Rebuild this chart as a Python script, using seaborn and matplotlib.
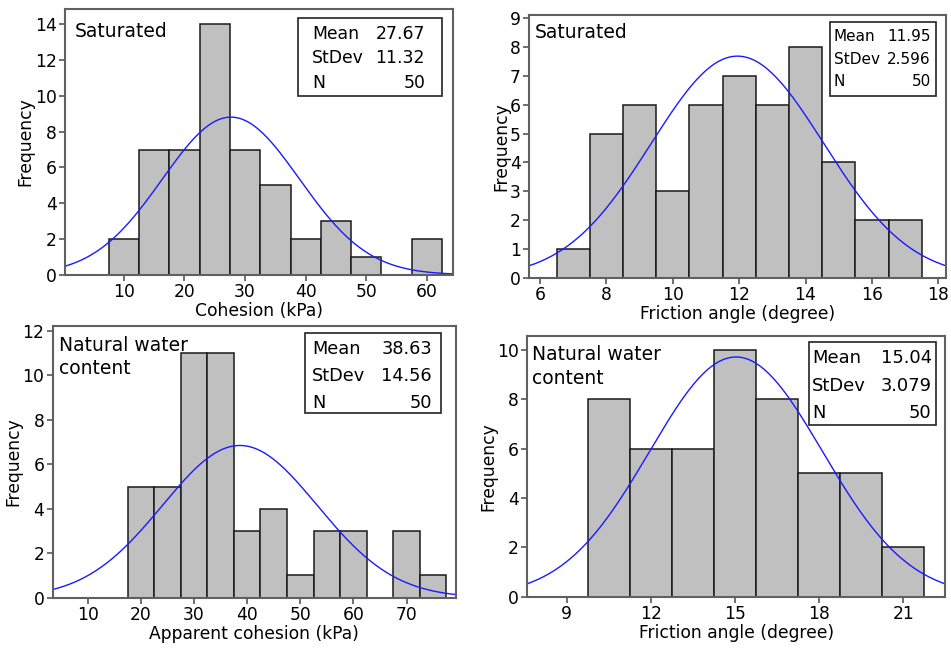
import numpy as np
import pandas as pd
import matplotlib
matplotlib.use("Agg")
import matplotlib.pyplot as plt
from matplotlib.patches import Rectangle
import seaborn as sns

sns.set_style("white")
plt.rcParams['font.family'] = ['DejaVu Sans']
plt.rcParams['text.color'] = 'black'
plt.rcParams['axes.labelcolor'] = 'black'

# histogram data (bin centres, counts, bin width)
sat_coh_centers = [10, 15, 20, 25, 30, 35, 40, 45, 50, 55, 60]
sat_coh_counts = [2, 7, 7, 14, 7, 5, 2, 3, 1, 0, 2]
sat_fri_centers = [7, 8, 9, 10, 11, 12, 13, 14, 15, 16, 17]
sat_fri_counts = [1, 5, 6, 3, 6, 7, 6, 8, 4, 2, 2]
nat_coh_centers = [20, 25, 30, 35, 40, 45, 50, 55, 60, 65, 70, 75]
nat_coh_counts = [5, 5, 11, 11, 3, 4, 1, 3, 3, 0, 3, 1]
nat_fri_centers = [10.5, 12, 13.5, 15, 16.5, 18, 19.5, 21]
nat_fri_counts = [8, 6, 6, 10, 8, 5, 5, 2]

# summary stats printed in the boxes
means = [27.67, 11.95, 38.63, 15.04]
stdevs = [11.32, 2.596, 14.56, 3.079]
mean_txt = ["27.67", "11.95", "38.63", "15.04"]
std_txt = ["11.32", "2.596", "14.56", "3.079"]
n_obs = 50

panels = [
    dict(c=sat_coh_centers, n=sat_coh_counts, bw=5, xlim=(0.3, 64.3), ylim=(0, 14.84),
         xt=np.arange(10, 61, 10), yt=np.arange(0, 15, 2), xl="Cohesion (kPa)",
         tag="Saturated", px=(65, 9.3, 453, 274.7),
         box=(0.600, 0.6745, 0.971, 0.966), rows=(0.907, 0.8165, 0.722),
         tx=(0.637, 0.928), fs=12.4, tagpos=(0.026, 0.918)),
    dict(c=sat_fri_centers, n=sat_fri_counts, bw=1, xlim=(5.68, 18.23), ylim=(0, 9.11),
         xt=np.arange(6, 19, 2), yt=np.arange(0, 10, 1), xl="Friction angle (degree)",
         tag="Saturated", px=(529.3, 15, 946, 277.7),
         box=(0.7216, 0.693, 0.976, 0.972), rows=(0.92, 0.8325, 0.745),
         tx=(0.731, 0.964), fs=11.0, tagpos=(0.014, 0.9315)),
    dict(c=nat_coh_centers, n=nat_coh_counts, bw=5, xlim=(3.42, 79.3), ylim=(0, 12.24),
         xt=np.arange(10, 71, 10), yt=np.arange(0, 13, 2), xl="Apparent cohesion (kPa)",
         tag="Natural water\ncontent", px=(52.7, 325.7, 456, 597.7),
         box=(0.6256, 0.68, 0.963, 0.972), rows=(0.914, 0.815, 0.717),
         tx=(0.643, 0.94), fs=12.8, tagpos=(0.0164, 0.963)),
    dict(c=nat_fri_centers, n=nat_fri_counts, bw=1.5, xlim=(7.6, 22.49), ylim=(0, 10.58),
         xt=np.arange(9, 22, 3), yt=np.arange(0, 11, 2), xl="Friction angle (degree)",
         tag="Natural water\ncontent", px=(527.3, 335.7, 945, 596.7),
         box=(0.674, 0.658, 0.978, 0.975), rows=(0.915, 0.808, 0.704),
         tx=(0.682, 0.968), fs=12.9, tagpos=(0.011, 0.963)),
]

W, H = 951, 653
fig = plt.figure(figsize=(W / 100, H / 100), dpi=100)

for i, p in enumerate(panels):
    x0, y0, x1, y1 = p["px"]
    ax = fig.add_axes([x0 / W, (H - y1) / H, (x1 - x0) / W, (y1 - y0) / H])
    centers = [float(v) for v in p["c"]]
    edges = [v - p["bw"] / 2 for v in centers] + [centers[-1] + p["bw"] / 2]
    df = pd.DataFrame({"x": centers, "count": p["n"]})
    sns.histplot(data=df, x="x", weights="count", bins=edges, ax=ax,
                 color="#c0c0c0", edgecolor="#1a1a1a", linewidth=1.1, alpha=1)

    # fitted normal curve from the stated mean / stdev
    xs = np.linspace(p["xlim"][0], p["xlim"][1], 300)
    ys = n_obs * p["bw"] / (stdevs[i] * np.sqrt(2 * np.pi)) * np.exp(-0.5 * ((xs - means[i]) / stdevs[i]) ** 2)
    sns.lineplot(x=xs, y=ys, ax=ax, color="#1a1aff", linewidth=1.0)

    ax.set_xlim(*p["xlim"])
    ax.set_ylim(*p["ylim"])
    ax.set_xticks(p["xt"])
    ax.set_yticks(p["yt"])
    ax.tick_params(axis="both", direction="out", length=4, width=1.2, color="#555555",
                   labelcolor="black", labelsize=12.3, pad=2, left=True, bottom=True)
    ax.set_xlabel(p["xl"], fontsize=12.3, labelpad=1)
    ax.set_ylabel("Frequency", fontsize=12.3, labelpad=0)
    for s in ax.spines.values():
        s.set_color("#606060")
        s.set_linewidth(1.5)

    ax.text(p["tagpos"][0], p["tagpos"][1], p["tag"], transform=ax.transAxes,
            fontsize=13.5, va="top" if "\n" in p["tag"] else "center", ha="left",
            linespacing=1.3)

    bx0, by0, bx1, by1 = p["box"]
    ax.add_patch(Rectangle((bx0, by0), bx1 - bx0, by1 - by0, transform=ax.transAxes,
                           fill=False, edgecolor="#222222", linewidth=1.2, zorder=5))
    labels = ["Mean", "StDev", "N"]
    vals = [mean_txt[i], std_txt[i], str(n_obs)]
    for lab, val, ry in zip(labels, vals, p["rows"]):
        ax.text(p["tx"][0], ry, lab, transform=ax.transAxes, fontsize=p["fs"],
                ha="left", va="center")
        ax.text(p["tx"][1], ry, val, transform=ax.transAxes, fontsize=p["fs"],
                ha="right", va="center")

fig.savefig("out.png", dpi=100)
